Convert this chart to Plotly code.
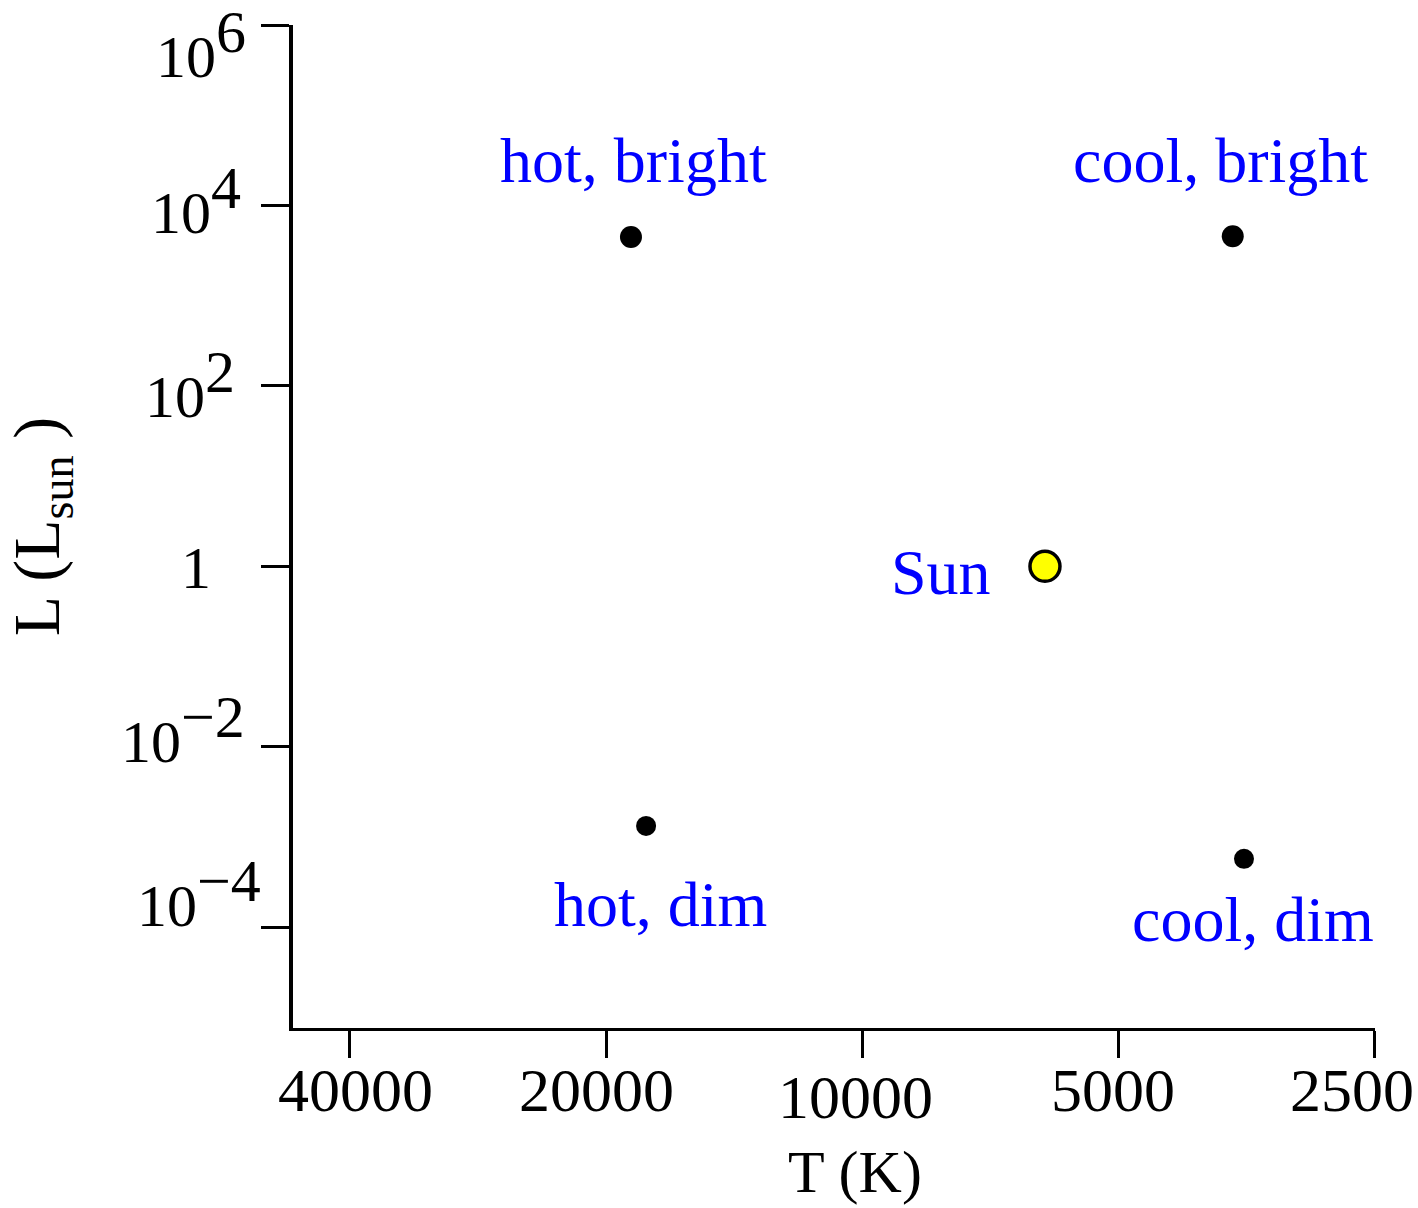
import math
import plotly.graph_objects as go

# Data
star_labels = ["hot, bright", "cool, bright", "Sun", "hot, dim", "cool, dim"]
temperature_K = [18700, 3670, 6100, 17950, 3560]
luminosity_Lsun = [4470, 4570, 1.0, 0.00132, 0.00057]

x_tick_vals = [40000, 20000, 10000, 5000, 2500]
x_tick_text = ["40000", "20000", "10000", "5000", "2500"]
y_tick_vals = [1e6, 1e4, 1e2, 1, 1e-2, 1e-4]
y_exponents = ["6", "4", "2", None, "−2", "−4"]
x_title = "T (K)"
y_title = "L (L<sub>sun</sub> )"

# Styles
sup_style = "font-size:60px"
y_label_shift = [(-45, -19), (-50, 5), (-56, 1), (-80, -2), (-46, 17), (-30, 34)]
x_label_shift = [(6, -62), (-10, -62), (-7, -69), (-5, -62), (-23, -62)]
marker_colors = ["black", "black", "#ffff00", "black", "black"]
marker_sizes = [22, 22, 30, 20, 20]
marker_line_w = [0, 0, 3.5, 0, 0]
label_shift = [(3, 77, "center"), (-12, 76, "center"), (-52, -6, "right"),
               (14, -79, "center"), (9, -61, "center")]

serif = "Liberation Serif, Times New Roman, serif"

fig = go.Figure()
fig.add_trace(go.Scatter(
    x=temperature_K, y=luminosity_Lsun, mode="markers",
    marker=dict(color=marker_colors, size=marker_sizes, opacity=1,
                line=dict(color="black", width=marker_line_w)),
    hoverinfo="skip", showlegend=False,
))

for lab, t, l, (dx, dy, anc) in zip(star_labels, temperature_K, luminosity_Lsun, label_shift):
    fig.add_annotation(x=math.log10(t), y=math.log10(l),
                       xref="x", yref="y", text=lab, showarrow=False,
                       xshift=dx, yshift=dy, xanchor=anc, yanchor="middle",
                       font=dict(family=serif, size=64, color="#0000ff"))

# y tick labels (placed on the y axis scale)
for v, e, (dx, dy) in zip(y_tick_vals, y_exponents, y_label_shift):
    txt = "10<sup><span style='%s'>%s</span></sup>" % (sup_style, e) if e else "1"
    fig.add_annotation(x=0, xref="paper", y=math.log10(v), yref="y", text=txt,
                       showarrow=False, xanchor="right", yanchor="middle",
                       xshift=dx, yshift=dy,
                       font=dict(family=serif, size=60, color="black"))

# x tick labels (placed on the x axis scale)
for v, txt, (dx, dy) in zip(x_tick_vals, x_tick_text, x_label_shift):
    fig.add_annotation(x=math.log10(v), xref="x", y=0, yref="paper", text=txt,
                       showarrow=False, xanchor="center", yanchor="middle",
                       xshift=dx, yshift=dy,
                       font=dict(family=serif, size=62, color="black"))

# x axis title
fig.add_annotation(x=0.5, xref="paper", y=0, yref="paper", text=x_title,
                   showarrow=False, xanchor="center", yanchor="middle",
                   xshift=21, yshift=-144,
                   font=dict(family=serif, size=60, color="black"))

fig.update_layout(
    width=1418, height=1208,
    margin=dict(l=293, r=43, t=25, b=180),
    paper_bgcolor="white", plot_bgcolor="white",
    font=dict(family=serif, color="black", size=58),
    xaxis=dict(
        type="log", range=[4.669, 3.3975], automargin=False,
        tickvals=x_tick_vals, showticklabels=False,
        showgrid=False, zeroline=False,
        showline=True, linecolor="black", linewidth=3,
        ticks="outside", ticklen=27, tickwidth=3, tickcolor="black",
    ),
    yaxis=dict(
        type="log", range=[-5.12, 6.002], automargin=False,
        tickvals=y_tick_vals, showticklabels=False,
        showgrid=False, zeroline=False,
        showline=True, linecolor="black", linewidth=4,
        ticks="outside", ticklen=28, tickwidth=3, tickcolor="black",
        title=dict(text=y_title, font=dict(family=serif, size=66), standoff=274),
    ),
)

fig.write_html("out.html", config={"displayModeBar": False},
               post_script="document.body.style.margin='0px';")
